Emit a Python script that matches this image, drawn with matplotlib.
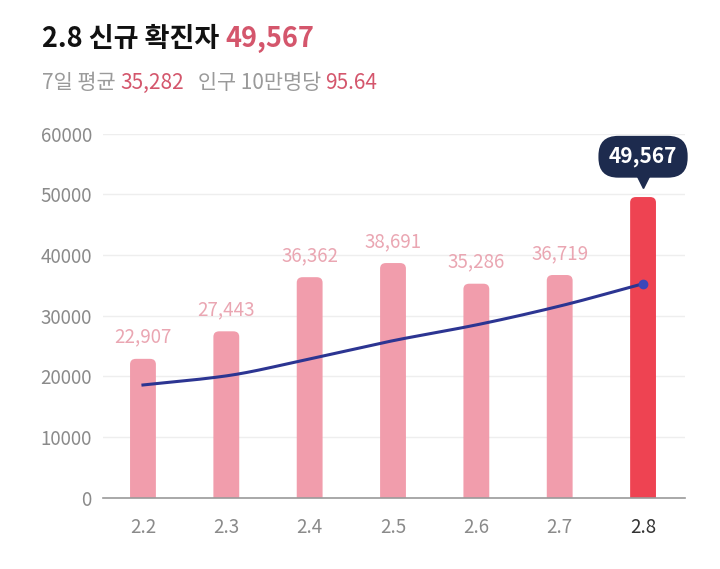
import matplotlib
matplotlib.use("Agg")
from matplotlib import pyplot as plt   # noqa: E402
from matplotlib.patches import FancyBboxPatch  # noqa: E402
from matplotlib import transforms  # noqa: E402
import numpy as np  # noqa: E402

plt.rcParams["font.family"] = ["Noto Sans CJK KR", "DejaVu Sans"]

dates = ["2.2", "2.3", "2.4", "2.5", "2.6", "2.7", "2.8"]
cases = [22907, 27443, 36362, 38691, 35286, 36719, 49567]
avg7 = [18600, 20100, 22900, 25900, 28500, 31600, 35282]
yticks = [0, 10000, 20000, 30000, 40000, 50000, 60000]

BAR = "#f19dac"
BAR_HI = "#ee4352"
LABEL = "#eaa6b2"
LINE = "#2c3592"
NAVY = "#1d2b4e"
RED_TXT = "#d4566c"


def pchip(xk, yk, xs):
    # monotone cubic (Fritsch-Carlson) so the line bends like the original
    xk = np.asarray(xk, float); yk = np.asarray(yk, float)
    h = np.diff(xk); d = np.diff(yk) / h
    m = np.zeros_like(yk)
    m[0], m[-1] = d[0], d[-1]
    for k in range(1, len(xk) - 1):
        if d[k - 1] * d[k] > 0:
            m[k] = 2 / (1 / d[k - 1] + 1 / d[k])
    idx = np.clip(np.searchsorted(xk, xs) - 1, 0, len(xk) - 2)
    t = (xs - xk[idx]) / h[idx]
    h00 = 2 * t**3 - 3 * t**2 + 1; h10 = t**3 - 2 * t**2 + t
    h01 = -2 * t**3 + 3 * t**2; h11 = t**3 - t**2
    return h00 * yk[idx] + h10 * h[idx] * m[idx] + h01 * yk[idx + 1] + h11 * h[idx] * m[idx + 1]


fig = plt.figure(figsize=(7.2, 5.69), dpi=100)
ax = fig.add_axes([0.143, 0.125, 0.808, 0.64])

x = np.arange(len(dates))
w = 0.31
for i, v in enumerate(cases):
    col = BAR_HI if i == len(cases) - 1 else BAR
    p = FancyBboxPatch((x[i] - w / 2, -3000), w, v + 3000,
                       boxstyle="round,pad=0,rounding_size=0.07",
                       mutation_aspect=13000, fc=col, ec="none", zorder=2)
    ax.add_patch(p)
    if i < len(cases) - 1:
        ax.annotate(f"{v:,}", (x[i], v), xytext=(0, 8), textcoords="offset points",
                    ha="center", va="bottom", fontsize=13.5, color=LABEL)

xs = np.linspace(0, len(x) - 1, 300)
ax.plot(xs, pchip(x, avg7, xs), color=LINE, lw=2.2, zorder=3)
ax.plot(x[-1], avg7[-1], "o", color="#3d47b8", ms=6, zorder=4)

# callout bubble on the last bar
ax.annotate(f"{cases[-1]:,}", (x[-1], cases[-1]), xytext=(0, 29), textcoords="offset points",
            ha="center", va="center", fontsize=15, color="white", fontweight="bold",
            bbox=dict(boxstyle="round,pad=0.5,rounding_size=0.95", fc=NAVY, ec="none"), zorder=5)
tri = transforms.offset_copy(ax.transData, fig=fig, x=0, y=11, units="points")
ax.plot(x[-1], cases[-1], marker="v", ms=8, color=NAVY, transform=tri, zorder=5, clip_on=False)

ax.set_xlim(-0.48, 6.5)
ax.set_ylim(0, 60000)
ax.set_yticks(yticks)
ax.set_yticklabels([str(t) for t in yticks])
ax.set_xticks(x)
ax.set_xticklabels(dates)
for s in ["top", "right", "left"]:
    ax.spines[s].set_visible(False)
ax.spines["bottom"].set_color("#9a9a9a")
ax.spines["bottom"].set_linewidth(1.2)
ax.grid(axis="y", color="#eeeeee", lw=1, zorder=0)
ax.set_axisbelow(True)
ax.tick_params(axis="both", length=0, labelsize=13.5, colors="#8a8a8a")
ax.tick_params(axis="x", pad=14)
ax.tick_params(axis="y", pad=8)
ax.get_xticklabels()[-1].set_color("#333333")

# header texts
renderer = fig.canvas.get_renderer()


def line_of_text(parts, x0, y0, size, weight="normal"):
    xpos = x0
    for txt, col in parts:
        t = fig.text(xpos, y0, txt, fontsize=size, color=col, fontweight=weight, va="baseline")
        bb = t.get_window_extent(renderer=renderer)
        xpos += bb.width / fig.bbox.width


line_of_text([("2.8 신규 확진자 ", "#111111"), ("49,567", RED_TXT)], 0.058, 0.918, 19.5, weight="bold")
line_of_text([("7일 평균 ", "#9a9a9a"), ("35,282", RED_TXT), ("   인구 10만명당 ", "#9a9a9a"),
              ("95.64", RED_TXT)], 0.058, 0.843, 15)

fig.savefig("out.png", dpi=100)
